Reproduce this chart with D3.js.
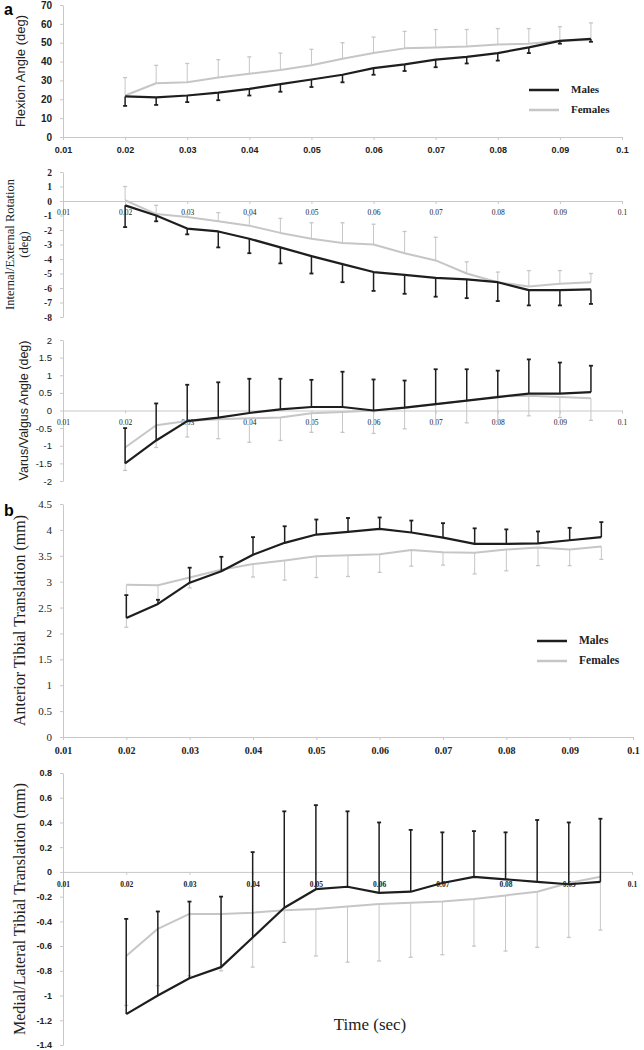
<!DOCTYPE html>
<html><head><meta charset="utf-8">
<script src="https://cdn.jsdelivr.net/npm/d3@7"></script>
<style>body{margin:0;background:#fff}svg{display:block}</style>
</head><body>
<script>
// ---------- data ----------
const times = [0.02,0.025,0.03,0.035,0.04,0.045,0.05,0.055,0.06,0.065,0.07,0.075,0.08,0.085,0.09,0.095];
const xTicks = [0.01,0.02,0.03,0.04,0.05,0.06,0.07,0.08,0.09,0.1];
const seriesNames = ["Males","Females"];

// Flexion angle (deg)
const flexMale      = [21.5,21,22,23.5,25.5,28,30.5,33,36.5,38.5,41,42.5,44.5,47.5,51,52];
const flexMaleEnd   = [16.5,17,18.5,19.5,22,24,26.5,29,33,35,37,39,40.5,44.5,49.5,50.5];
const flexFemale    = [22,28.5,29,31.5,33.5,35.5,38,41.5,44.5,47,47.5,48,49,49.5,51,51.5];
const flexFemaleEnd = [31.5,38,39,41,42.5,44.5,46.5,50,53,56,57,57,57.5,57.5,58.5,60.5];
const flexTicks = [0,10,20,30,40,50,60,70];

// Internal/External rotation (deg)
const rotMale      = [-0.3,-1.0,-1.9,-2.1,-2.6,-3.2,-3.8,-4.35,-4.9,-5.1,-5.3,-5.4,-5.6,-6.15,-6.15,-6.1];
const rotMaleEnd   = [-1.8,-1.4,-2.3,-3.2,-3.6,-4.3,-5.0,-5.6,-6.2,-6.4,-6.6,-6.7,-6.9,-7.2,-7.2,-7.1];
const rotFemale    = [0.05,-0.9,-1.1,-1.4,-1.7,-2.2,-2.6,-2.9,-3.0,-3.6,-4.1,-5.0,-5.6,-5.9,-5.7,-5.6];
const rotFemaleEnd = [1.0,-0.3,-0.9,-0.8,-1.0,-1.2,-1.5,-1.5,-1.6,-2.1,-2.5,-4.2,-4.9,-4.8,-4.8,-5.0];
const rotTicks = [2,1,0,-1,-2,-3,-4,-5,-6,-7,-8];

// Varus/valgus angle (deg)
const varMale      = [-1.5,-0.85,-0.3,-0.2,-0.07,0.03,0.1,0.1,0.0,0.08,0.18,0.28,0.38,0.48,0.48,0.52];
const varMaleEnd   = [-0.5,0.2,0.73,0.8,0.9,0.9,0.87,1.1,0.88,0.85,1.17,1.17,1.13,1.45,1.36,1.27];
const varFemale    = [-1.05,-0.42,-0.3,-0.25,-0.22,-0.2,-0.08,-0.04,0.0,0.08,0.18,0.28,0.4,0.42,0.38,0.35];
const varFemaleEnd = [-1.7,-1.05,-0.75,-0.8,-0.9,-0.85,-0.62,-0.62,-0.65,-0.52,-0.4,-0.35,-0.3,-0.15,-0.2,-0.28];
const varTicks = [2,1.5,1,0.5,0,-0.5,-1,-1.5,-2];

// Anterior tibial translation (mm)
const attMale      = [2.3,2.57,2.98,3.2,3.52,3.75,3.91,3.96,4.02,3.95,3.85,3.73,3.73,3.74,3.8,3.86];
const attMaleEnd   = [2.74,2.65,3.27,3.48,3.86,4.07,4.2,4.23,4.24,4.18,4.13,4.03,4.01,3.97,4.04,4.15];
const attFemale    = [2.94,2.93,3.08,3.23,3.34,3.41,3.49,3.51,3.53,3.61,3.57,3.56,3.62,3.66,3.62,3.68];
const attFemaleEnd = [2.12,2.64,2.88,3.22,3.09,3.03,3.08,3.1,3.18,3.3,3.32,3.15,3.21,3.31,3.31,3.43];
const attTicks = [0,0.5,1,1.5,2,2.5,3,3.5,4,4.5];

// Medial/lateral tibial translation (mm)
const mlMale      = [-1.15,-1.0,-0.86,-0.77,-0.53,-0.29,-0.14,-0.12,-0.17,-0.16,-0.09,-0.04,-0.06,-0.08,-0.1,-0.08];
const mlMaleEnd   = [-0.38,-0.32,-0.24,-0.2,0.16,0.49,0.54,0.49,0.4,0.34,0.32,0.33,0.32,0.42,0.4,0.43];
const mlFemale    = [-0.68,-0.46,-0.34,-0.34,-0.33,-0.31,-0.3,-0.28,-0.26,-0.25,-0.24,-0.22,-0.19,-0.16,-0.09,-0.04];
const mlFemaleEnd = [-1.08,-0.92,-0.84,-0.8,-0.77,-0.57,-0.68,-0.73,-0.72,-0.69,-0.67,-0.6,-0.64,-0.61,-0.53,-0.47];
const mlTicks = [0.8,0.6,0.4,0.2,0,-0.2,-0.4,-0.6,-0.8,-1,-1.2,-1.4];

// ---------- drawing ----------
const W = 644, H = 1050;
const svg = d3.select("body").append("svg").attr("width", W).attr("height", H);
const maleColor = "#1e1e1e", femaleColor = "#c6c6c6", axisColor = "#c8c8c8";
const SANS = "'Liberation Sans', Arial, sans-serif", SERIF = "'Liberation Serif', 'Times New Roman', serif";

const panels = [
  {male:flexMale, maleEnd:flexMaleEnd, female:flexFemale, femaleEnd:flexFemaleEnd, ticks:flexTicks,
   domain:[0,70], top:5, bottom:137, xr:622, yFont:SANS, yFs:10, yBold:true, xFs:9, xFont:SANS, xBold:true, xOff:16,
   title:["Flexion Angle (deg)"], tFont:SANS, tFs:13, tX:22,
   legend:{x:529, y:90, font:SERIF, fs:11}},
  {male:rotMale, maleEnd:rotMaleEnd, female:rotFemale, femaleEnd:rotFemaleEnd, ticks:rotTicks,
   domain:[-8,2], top:172, bottom:317, xr:622, yFont:SERIF, yFs:9.5, yBold:true, xFs:7.5, xFont:SERIF, xBold:false, xOff:14,
   title:["Internal/External Rotation","(deg)"], tFont:SERIF, tFs:12.5, tX:11},
  {male:varMale, maleEnd:varMaleEnd, female:varFemale, femaleEnd:varFemaleEnd, ticks:varTicks,
   domain:[-2,2], top:340, bottom:481, xr:622, yFont:SANS, yFs:9.5, yBold:false, xFs:7.5, xFont:SERIF, xBold:false, xOff:14,
   title:["Varus/Valgus Angle (deg)"], tFont:SANS, tFs:12.5, tX:25},
  {male:attMale, maleEnd:attMaleEnd, female:attFemale, femaleEnd:attFemaleEnd, ticks:attTicks,
   domain:[0,4.5], top:504, bottom:737, xr:633, yFont:SERIF, yFs:11, yBold:false, xFs:10, xFont:SERIF, xBold:true, xOff:17,
   title:["Anterior Tibial Translation (mm)"], tFont:SERIF, tFs:16, tX:21},
  {male:mlMale, maleEnd:mlMaleEnd, female:mlFemale, femaleEnd:mlFemaleEnd, ticks:mlTicks,
   domain:[-1.4,0.8], top:773, bottom:1045, xr:632, yFont:SANS, yFs:9, yBold:true, xFs:7.5, xFont:SERIF, xBold:true, xOff:15,
   title:["Medial/Lateral Tibial Translation (mm)"], tFont:SERIF, tFs:16, tX:21}
];
panels[3].legend = {x:537, y:641, font:SERIF, fs:11.5};

const X0 = 63;

panels.forEach(p => {
  const g = svg.append("g");
  const x = d3.scaleLinear().domain([0.01, 0.1]).range([X0, p.xr]);
  const y = d3.scaleLinear().domain(p.domain).range([p.bottom, p.top]);

  // y axis
  const ya = g.append("g").attr("transform", `translate(${X0},0)`)
    .call(d3.axisLeft(y).tickValues(p.ticks).tickSize(3).tickSizeOuter(0).tickPadding(8).tickFormat(d => String(d)));
  ya.select(".domain").attr("stroke", axisColor);
  ya.selectAll(".tick line").attr("stroke", axisColor);
  ya.selectAll("text").attr("font-family", p.yFont).attr("font-size", p.yFs)
    .attr("font-weight", p.yBold ? "bold" : "normal").attr("fill", "#222");

  // x axis at y=0
  const xa = g.append("g").attr("transform", `translate(0,${y(0)})`)
    .call(d3.axisBottom(x).tickValues(xTicks).tickSize(3).tickSizeOuter(0).tickPadding(p.xOff - 3 - p.xFs*0.71).tickFormat(d3.format(".2~f")));
  xa.select(".domain").attr("stroke", axisColor);
  xa.selectAll(".tick line").attr("stroke", axisColor);
  xa.selectAll("text").attr("font-family", p.xFont).attr("font-size", p.xFs)
    .attr("font-weight", p.xBold ? "bold" : "normal").attr("fill", "#222");

  // y title
  const cy = (p.top + p.bottom) / 2;
  p.title.forEach((t, i) => {
    g.append("text").attr("transform", `translate(${p.tX + i * (p.tFs + 2)},${cy}) rotate(-90)`)
      .attr("text-anchor", "middle").attr("dominant-baseline", "middle")
      .attr("font-family", p.tFont).attr("font-size", p.tFs).attr("fill", "#222").text(t);
  });

  const line = d3.line().x((d, i) => x(times[i])).y(d => y(d));
  const drawSeries = (vals, ends, color, lw, ew) => {
    const eb = g.append("g");
    vals.forEach((v, i) => {
      const xx = x(times[i]);
      eb.append("line").attr("x1", xx).attr("x2", xx).attr("y1", y(v)).attr("y2", y(ends[i]))
        .attr("stroke", color).attr("stroke-width", ew);
      eb.append("line").attr("x1", xx - 2).attr("x2", xx + 2).attr("y1", y(ends[i])).attr("y2", y(ends[i]))
        .attr("stroke", color).attr("stroke-width", ew + 0.3);
    });
    g.append("path").datum(vals).attr("d", line).attr("fill", "none")
      .attr("stroke", color).attr("stroke-width", lw).attr("stroke-linejoin", "round");
  };
  drawSeries(p.female, p.femaleEnd, femaleColor, 2, 1);
  drawSeries(p.male, p.maleEnd, maleColor, 2.2, 1.5);

  if (p.legend) {
    const L = p.legend;
    [[seriesNames[0], maleColor], [seriesNames[1], femaleColor]].forEach(([name, c], i) => {
      const yy = L.y + i * 20;
      g.append("line").attr("x1", L.x).attr("x2", L.x + 30).attr("y1", yy).attr("y2", yy)
        .attr("stroke", c).attr("stroke-width", 2.5);
      g.append("text").attr("x", L.x + 42).attr("y", yy).attr("dominant-baseline", "middle")
        .attr("font-family", L.font).attr("font-size", L.fs).attr("font-weight", "bold")
        .attr("fill", "#222").text(name);
    });
  }
});

// panel letters
svg.append("text").attr("x", 4).attr("y", 15).attr("font-family", SANS).attr("font-size", 16)
  .attr("font-weight", "bold").text("a");
svg.append("text").attr("x", 4).attr("y", 516).attr("font-family", SANS).attr("font-size", 16)
  .attr("font-weight", "bold").text("b");

// x-axis title
svg.append("text").attr("x", 370).attr("y", 1030).attr("text-anchor", "middle")
  .attr("font-family", SERIF).attr("font-size", 17).attr("fill", "#222").text("Time (sec)");
</script>
</body></html>
